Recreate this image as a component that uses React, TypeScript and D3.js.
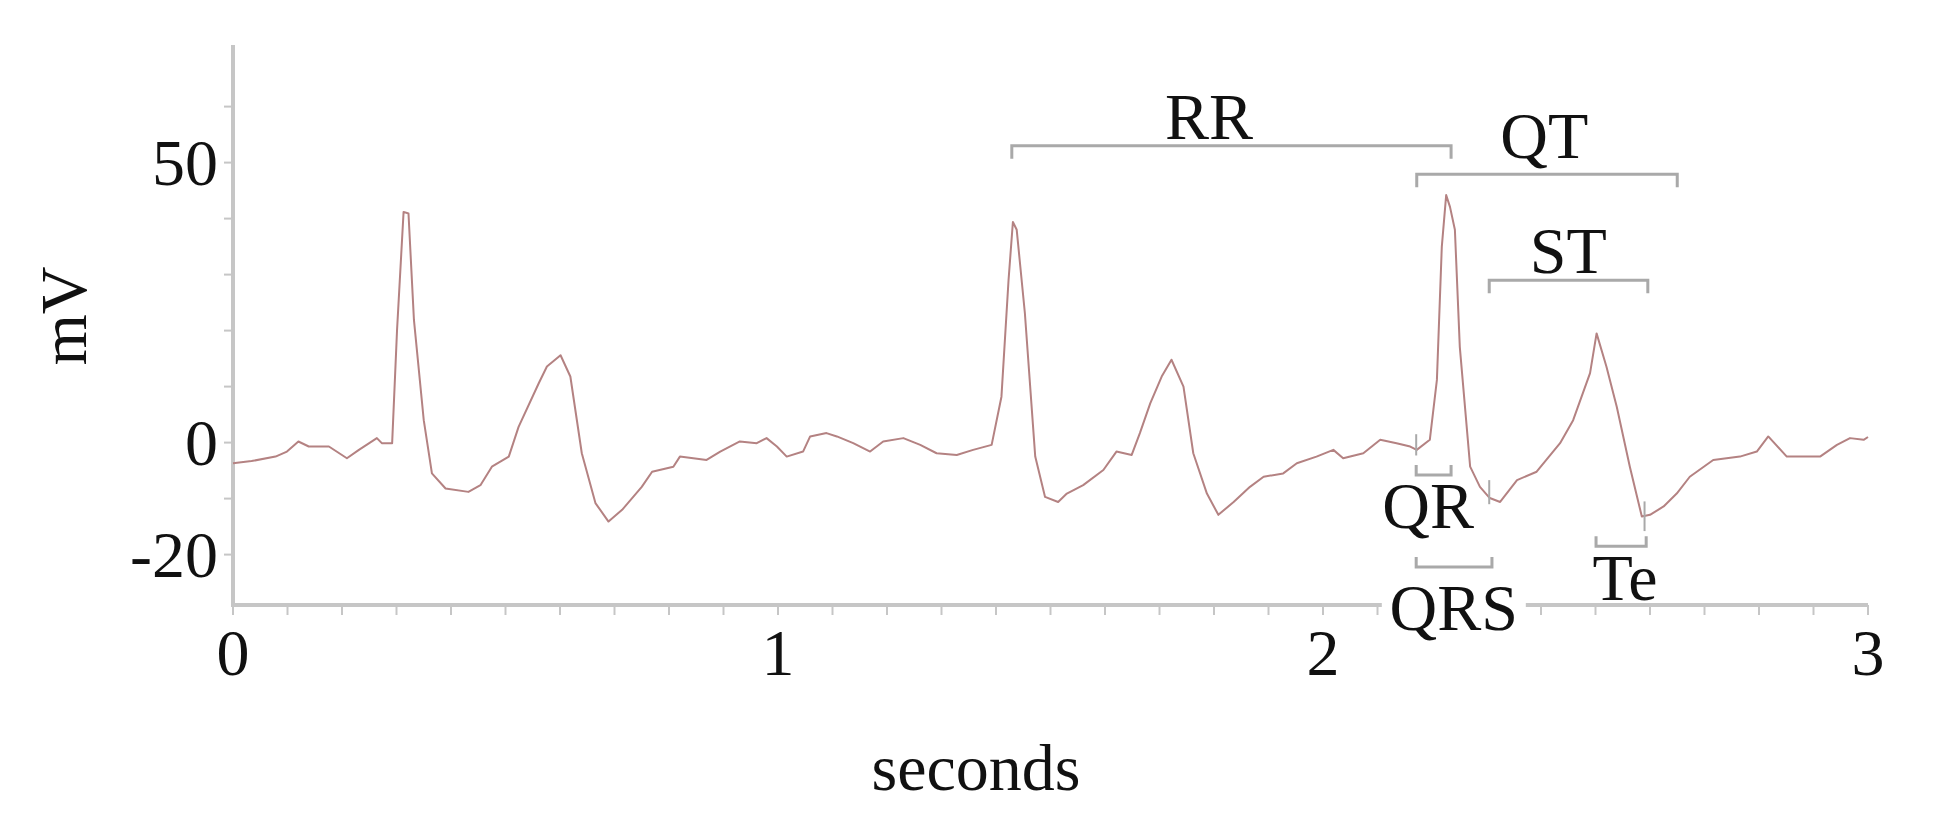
import React from "react";
import * as d3 from "d3";

// ECG trace (seconds, mV)
const TIME = [
  0.0, 0.034, 0.078, 0.099, 0.12, 0.139, 0.176, 0.209, 0.231, 0.264, 0.273, 0.292, 0.301, 0.313, 0.322, 0.332,
  0.35, 0.365, 0.39, 0.432, 0.454, 0.475, 0.506, 0.524, 0.561, 0.576, 0.601, 0.619, 0.64, 0.665, 0.689, 0.714,
  0.75, 0.769, 0.808, 0.82, 0.869, 0.894, 0.93, 0.961, 0.979, 0.998, 1.016, 1.046, 1.059, 1.089, 1.108, 1.138,
  1.169, 1.193, 1.23, 1.261, 1.291, 1.328, 1.358, 1.392, 1.41, 1.423, 1.431, 1.438, 1.453, 1.472, 1.49, 1.514,
  1.53, 1.56, 1.597, 1.621, 1.649, 1.664, 1.683, 1.704, 1.722, 1.744, 1.762, 1.787, 1.808, 1.836, 1.866, 1.891,
  1.927, 1.952, 1.988, 2.019, 2.037, 2.074, 2.105, 2.135, 2.16, 2.172, 2.196, 2.209, 2.218, 2.226, 2.233, 2.242,
  2.251, 2.27, 2.288, 2.306, 2.325, 2.356, 2.392, 2.435, 2.459, 2.49, 2.502, 2.52, 2.539, 2.563, 2.585, 2.6,
  2.625, 2.649, 2.673, 2.716, 2.765, 2.796, 2.817, 2.851, 2.881, 2.912, 2.943, 2.967, 2.992, 3.0,
];
const MV = [
  -3.7, -3.3, -2.5, -1.6, 0.2, -0.7, -0.7, -2.8, -1.3, 0.8, -0.1, -0.1, 20.1, 41.2, 40.9, 21.9,
  4.0, -5.5, -8.2, -8.8, -7.6, -4.3, -2.5, 2.8, 10.6, 13.6, 15.6, 11.8, -1.9, -10.8, -14.1, -12.0,
  -7.9, -5.2, -4.3, -2.5, -3.1, -1.6, 0.2, -0.1, 0.8, -0.7, -2.5, -1.6, 1.1, 1.7, 1.1, -0.1,
  -1.6, 0.2, 0.8, -0.4, -1.9, -2.2, -1.3, -0.4, 8.2, 29, 39.4, 38, 23.1, -2.5, -9.7, -10.6,
  -9.1, -7.6, -4.9, -1.6, -2.2, 1.7, 7.0, 11.8, 14.8, 10.0, -1.9, -9.1, -12.9, -10.6, -7.9, -6.1,
  -5.5, -3.7, -2.5, -1.3, -2.8, -1.9, 0.5, -0.1, -0.7, -1.3, 0.5, 11.2, 35, 44.2, 42.1, 38,
  17.1, -4.3, -7.9, -9.9, -10.6, -6.7, -5.2, -0.1, 4.0, 12.4, 19.5, 13.6, 6.4, -4.3, -13.2, -12.9,
  -11.4, -9.1, -6.1, -3.1, -2.5, -1.6, 1.1, -2.5, -2.5, -2.5, -0.4, 0.8, 0.5, 1.0,
];

const X_TICKS = [0, 1, 2, 3];
const Y_TICKS = [-20, 0, 50];
const X_MINOR = d3.range(0, 3.0001, 0.1);
const Y_MINOR = [-20, -10, 0, 10, 20, 30, 40, 50, 60];

// Interval annotations
const INT_LABEL = ["RR", "QT", "ST", "QR", "QRS", "Te"];
const INT_START = [1.429, 2.172, 2.305, 2.171, 2.171, 2.501];
const INT_END = [2.235, 2.65, 2.596, 2.235, 2.31, 2.593];
const INT_LEVEL = [53, 47.9, 29.0, -5.8, -22.2, -18.5];
const INT_TICK_UP = [false, false, false, true, true, true];
const LABEL_T = [1.791, 2.406, 2.45, 2.193, 2.24, 2.554];
const LABEL_MV = [54.2, 50.8, 30.3, -15.3, -33.5, -28.1];
const LABEL_BG = [false, false, false, false, true, false];

// Point markers (Q, S, T end)
const MARK_T = [2.171, 2.305, 2.59];
const MARK_TOP = [1.5, -6.7, -10.5];
const MARK_BOTTOM = [-2.3, -11.0, -15.8];

const W = 1944;
const H = 834;
const LEFT = 233;
const RIGHT = 1868;
const TOP = 45;
const BOTTOM = 605;
const FONT = "'Liberation Serif', 'Times New Roman', serif";
const AXIS = "#c6c6c6";
const BRACKET = "#a9a9a9";

export default function App() {
  const x = d3.scaleLinear().domain([0, 3]).range([LEFT, RIGHT]);
  const y = d3.scaleLinear().domain([-29, 71]).range([BOTTOM, TOP]);
  const data = TIME.map((t, i) => [t, MV[i]] as [number, number]);
  const line = d3
    .line<[number, number]>()
    .x((d) => x(d[0]))
    .y((d) => y(d[1]));

  return (
    <svg
      width={W}
      height={H}
      style={{ position: "absolute", left: 0, top: 0, background: "#fff" }}
      fontFamily={FONT}
    >
      <rect x={0} y={0} width={W} height={H} fill="#fff" />
      {/* axes */}
      <line x1={LEFT} x2={LEFT} y1={TOP} y2={BOTTOM + 2} stroke={AXIS} strokeWidth={4} />
      <line x1={LEFT - 2} x2={RIGHT} y1={BOTTOM} y2={BOTTOM} stroke={AXIS} strokeWidth={4} />
      {X_MINOR.map((t, i) => (
        <line key={"xm" + i} x1={x(t)} x2={x(t)} y1={BOTTOM} y2={BOTTOM + 10} stroke={AXIS} strokeWidth={2} />
      ))}
      {Y_MINOR.map((v, i) => (
        <line key={"ym" + i} x1={LEFT - 9} x2={LEFT} y1={y(v)} y2={y(v)} stroke={AXIS} strokeWidth={2} />
      ))}
      {X_TICKS.map((t) => (
        <text key={"xt" + t} x={x(t)} y={675} fontSize={66} textAnchor="middle" fill="#111">
          {t}
        </text>
      ))}
      {Y_TICKS.map((v) => (
        <text key={"yt" + v} x={218} y={y(v)} dy="0.34em" fontSize={66} textAnchor="end" fill="#111">
          {v}
        </text>
      ))}
      <text
        transform={`translate(86, 316) rotate(-90)`}
        fontSize={66}
        textAnchor="middle"
        fill="#111"
      >
        mV
      </text>
      <text x={976} y={790} fontSize={66} textAnchor="middle" fill="#111">
        seconds
      </text>

      {/* trace */}
      <path d={line(data) || ""} fill="none" stroke="#b48282" strokeWidth={2} strokeLinejoin="round" />

      {/* markers */}
      {MARK_T.map((t, i) => (
        <line key={"mk" + i} x1={x(t)} x2={x(t)} y1={y(MARK_TOP[i])} y2={y(MARK_BOTTOM[i])} stroke={BRACKET} strokeWidth={2} />
      ))}

      {/* interval brackets */}
      {INT_LABEL.map((lab, i) => {
        const x0 = x(INT_START[i]);
        const x1 = x(INT_END[i]);
        const yy = y(INT_LEVEL[i]);
        const tl = INT_TICK_UP[i] ? -10 : 13;
        return (
          <g key={"int" + i}>
            <path
              d={`M${x0},${yy + tl}V${yy}H${x1}V${yy + tl}`}
              fill="none"
              stroke={BRACKET}
              strokeWidth={3}
            />
          </g>
        );
      })}
      {INT_LABEL.map((lab, i) => {
        const lx = x(LABEL_T[i]);
        const ly = y(LABEL_MV[i]);
        return (
          <g key={"lab" + i}>
            {LABEL_BG[i] && <rect x={lx - 72} y={ly - 46} width={144} height={60} fill="#fff" />}
            <text x={lx} y={ly} fontSize={66} textAnchor="middle" fill="#111">
              {lab}
            </text>
          </g>
        );
      })}
    </svg>
  );
}
